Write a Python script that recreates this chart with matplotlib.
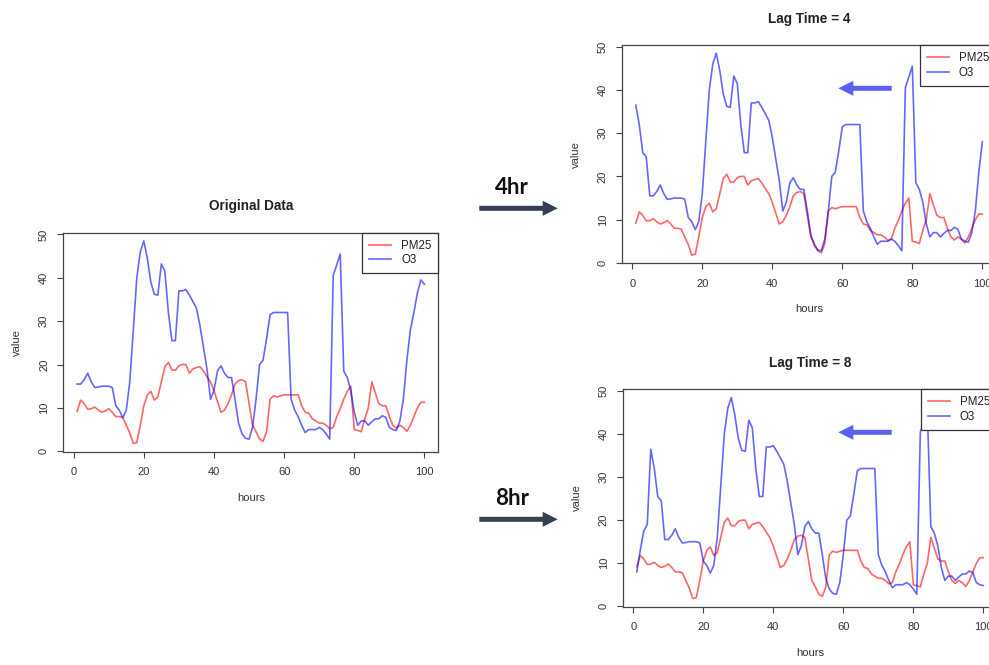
import numpy as np
import matplotlib
matplotlib.use("Agg")
import matplotlib.pyplot as plt
from matplotlib.patches import FancyArrow

plt.rcParams['font.family'] = ['Liberation Sans', 'DejaVu Sans']

# hourly readings
hours = np.arange(1, 101)
pm25 = [9.2, 11.8, 11.0, 9.7, 9.8, 10.2, 9.5, 9.0, 9.3, 9.8,
        9.0, 8.0, 8.0, 7.8, 6.0, 4.2, 1.8, 2.0, 6.0, 10.5,
        13.0, 13.8, 11.8, 12.5, 16.0, 19.5, 20.5, 18.7, 18.7, 19.7,
        20.0, 20.0, 18.0, 19.0, 19.3, 19.5, 18.5, 17.2, 16.0, 14.0,
        11.5, 9.0, 9.5, 11.0, 13.0, 15.5, 16.3, 16.5, 16.0, 11.0,
        6.0, 4.5, 2.8, 2.3, 4.5, 12.0, 12.8, 12.5, 12.8, 13.0,
        13.0, 13.0, 13.0, 13.0, 10.5, 9.0, 8.8, 7.5, 7.0, 6.5,
        6.5, 6.0, 5.2, 5.5, 8.0, 9.8, 12.0, 13.8, 15.0, 5.0,
        4.8, 4.5, 7.5, 10.0, 16.0, 13.5, 11.0, 10.5, 10.5, 8.0,
        6.0, 5.3, 6.0, 5.5, 4.6, 6.0, 8.0, 10.0, 11.3, 11.3]
o3 = [15.5, 15.5, 16.5, 18.0, 16.0, 14.7, 14.8, 15.0, 15.0, 15.0,
      14.7, 10.5, 9.5, 7.7, 9.5, 16.0, 28.0, 40.0, 46.0, 48.5,
      44.5, 39.0, 36.2, 36.0, 43.2, 41.5, 32.0, 25.5, 25.5, 37.0,
      37.0, 37.3, 36.0, 34.5, 33.0, 29.0, 24.0, 19.0, 12.0, 14.0,
      18.5, 19.7, 18.0, 17.0, 17.0, 12.0, 6.5, 4.0, 3.0, 2.8,
      5.5, 12.0, 20.0, 21.0, 26.0, 31.5, 32.0, 32.0, 32.0, 32.0,
      32.0, 12.0, 9.5, 8.0, 6.0, 4.3, 5.0, 5.0, 5.0, 5.5,
      5.0, 4.0, 2.8, 40.5, 43.0, 45.5, 18.5, 17.0, 14.0, 9.0,
      6.0, 7.0, 7.0, 6.0, 6.8, 7.5, 7.5, 8.2, 7.8, 5.5,
      5.0, 4.8, 7.0, 12.0, 21.0, 28.0, 32.0, 36.5, 39.5, 38.5]
# O3 for hours -7..0, needed once the series is lagged
o3_before = [8.0, 13.0, 17.5, 19.0, 36.5, 32.0, 25.5, 24.5]
lags = [4, 8]

o3_full = np.array(o3_before + o3)
n_before = len(o3_before)

W, H = 989, 665
fig = plt.figure(figsize=(W / 100, H / 100), dpi=100)


def px_axes(left, top, right, bottom):
    return fig.add_axes([left / W, 1 - bottom / H, (right - left) / W, (bottom - top) / H])


def r_plot(ax, o3_series, title):
    ax.plot(hours, pm25, color=(1, 0, 0, 0.6), lw=1.2, label='PM25')
    ax.plot(hours, o3_series, color=(0, 0, 1, 0.6), lw=1.2, label='O3')
    ax.set_xlim(1 - 3.96, 100 + 3.96)
    ax.set_ylim(-0.1, 50.4)
    ax.set_xticks(range(0, 101, 20))
    ax.set_yticks(range(0, 51, 10))
    ax.tick_params(direction='out', length=4.3, width=0.8, color='#444444',
                   labelsize=8, labelcolor='#333333', pad=7)
    ax.tick_params(axis='y', pad=6)
    for lab in ax.get_yticklabels():
        lab.set_rotation(90)
        lab.set_va('center')
    for s in ax.spines.values():
        s.set_color('#444444')
        s.set_linewidth(0.9)
    ax.set_xlabel('hours', fontsize=8, color='#333333', labelpad=11)
    ax.set_ylabel('value', fontsize=8, color='#333333', labelpad=12)
    ax.set_title(title, fontsize=9.8, fontweight='bold', color='#222222', pad=16)
    leg = ax.legend(loc='upper right', borderaxespad=0, fancybox=False, framealpha=1,
                    edgecolor='#333333', fontsize=8.3, handlelength=1.9,
                    handletextpad=0.9, labelspacing=0.25, borderpad=0.6)
    leg.get_frame().set_linewidth(0.9)
    for t in leg.get_texts():
        t.set_color('#222222')


ax0 = px_axes(63.3, 232.7, 438.3, 451.7)
r_plot(ax0, o3, 'Original Data')

lag_boxes = [(621.9, 45.0, 996.2, 263.3), (622.9, 389.3, 997.2, 606.7)]
for lag, box in zip(lags, lag_boxes):
    ax = px_axes(*box)
    shifted = o3_full[n_before - lag:n_before - lag + len(hours)]
    r_plot(ax, shifted, 'Lag Time = %d' % lag)


def px_arrow(x0, x1, y, color):
    # arrow drawn in pixel units so the head keeps its shape
    a = FancyArrow(x0 / 100, (H - y) / 100, (x1 - x0) / 100, 0,
                   width=0.05, head_width=0.15, head_length=0.15,
                   length_includes_head=True, color=color, lw=0,
                   transform=fig.dpi_scale_trans)
    fig.patches.append(a)


# shift markers between the panels
for y_arrow, label in [(208.3, '4hr'), (519.3, '8hr')]:
    px_arrow(479.3, 557.7, y_arrow, '#36404f')
    fig.text(511.7 / W, 1 - (y_arrow - 21) / H, label, family=['Lato', 'DejaVu Sans'],
             fontweight='bold', fontsize=16, ha='center', va='center', color='#111111')

for y_arrow in [88.3, 432.3]:
    px_arrow(891.7, 838.3, y_arrow, '#5b60f2')

fig.savefig('out.png', dpi=100)
